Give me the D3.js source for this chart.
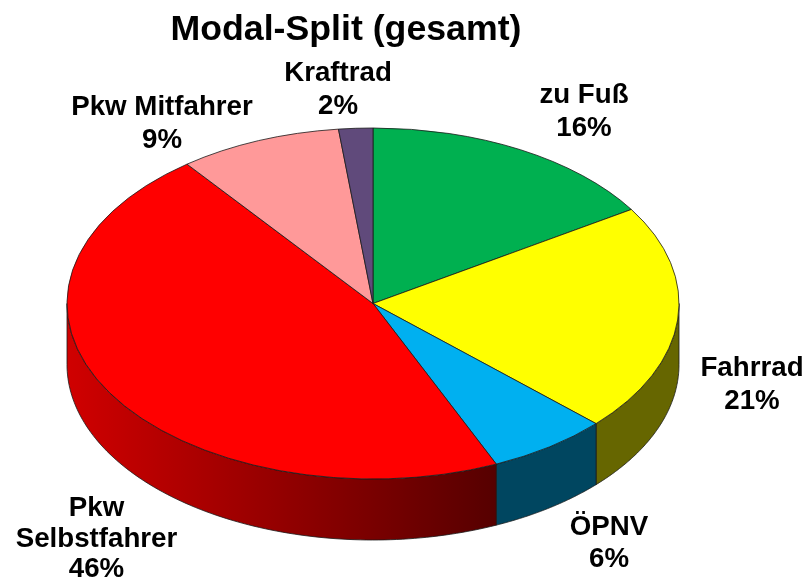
<!DOCTYPE html>
<html><head><meta charset="utf-8">
<script src="https://cdn.jsdelivr.net/npm/d3@7"></script>
<style>html,body{margin:0;padding:0;background:#fff}svg{display:block;filter:blur(0.35px)}text{font-family:"Liberation Sans",Arial,sans-serif;font-weight:bold;fill:#000;text-anchor:middle}</style>
</head><body><svg id="c" width="807" height="580"></svg>
<script>
const title = "Modal-Split (gesamt)";
const categories = ["zu Fuß","Fahrrad","ÖPNV","Pkw Selbstfahrer","Pkw Mitfahrer","Kraftrad"];
const shares = [16,21,6.4,46.2,8.6,1.8];
const topColors = ["#00B050","#FFFF00","#00B0F0","#FF0000","#FF9999","#604A7B"];
const wallStart = ["#005828","#666600","#004660","#D00000","#803030","#302540"];
const wallEnd = ["#005828","#666600","#004660","#560000","#803030","#302540"];
const labelLines = [["zu Fuß","16%"],["Fahrrad","21%"],["ÖPNV","6%"],["Pkw","Selbstfahrer","46%"],["Pkw Mitfahrer","9%"],["Kraftrad","2%"]];
const labelPos = [[584,103],[752,376],[609,535],[96.5,516],[162,115],[338,81]];
const labelStep = [33,33,32,30.5,33,33];

const cx=373, cy=303.5, rx=306, ry=175.5, depth=61;
const svg=d3.select("#c");
const defs=svg.append("defs");
const pie=d3.pie().sort(null).value(d=>d)(shares);
const X=a=>cx+rx*Math.sin(a), Y=a=>cy-ry*Math.cos(a);
const stroke="#1a1a1a", sw=0.8;

// walls
const HALF=Math.PI/2, END=3*Math.PI/2;
pie.forEach((p,i)=>{
  const a0=Math.max(p.startAngle,HALF), a1=Math.min(p.endAngle,END);
  if(a1<=a0) return;
  const pts=d3.range(0,101).map(k=>a0+(a1-a0)*k/100);
  const upper=pts.map(a=>[X(a),Y(a)]);
  const lower=pts.slice().reverse().map(a=>[X(a),Y(a)+depth]);
  const id="w"+i;
  const xs=[X(a0),X(a1)];
  const g=defs.append("linearGradient").attr("id",id).attr("gradientUnits","userSpaceOnUse")
    .attr("x1",d3.min(xs)).attr("x2",d3.max(xs)).attr("y1",0).attr("y2",0);
  g.append("stop").attr("offset",0).attr("stop-color",wallStart[i]);
  g.append("stop").attr("offset",1).attr("stop-color",wallEnd[i]);
  svg.append("path").attr("d",d3.line()(upper.concat(lower))+"Z")
    .attr("fill",`url(#${id})`).attr("stroke",stroke).attr("stroke-width",sw).attr("stroke-linejoin","round");
});

// top face
const arc=d3.arc().innerRadius(0).outerRadius(rx);
svg.append("g").attr("transform",`translate(${cx},${cy}) scale(1,${ry/rx})`)
  .selectAll("path").data(pie).join("path")
  .attr("d",arc).attr("fill",(d,i)=>topColors[i])
  .attr("stroke",stroke).attr("stroke-width",sw).attr("vector-effect","non-scaling-stroke").attr("stroke-linejoin","round");

// title and labels
svg.append("text").attr("x",346).attr("y",40).attr("font-size",35.7).text(title);
labelLines.forEach((lines,i)=>{
  const t=svg.append("text").attr("font-size",27.7);
  lines.forEach((l,k)=>t.append("tspan").attr("x",labelPos[i][0]).attr("y",labelPos[i][1]+k*labelStep[i]).text(l));
});
</script></body></html>
